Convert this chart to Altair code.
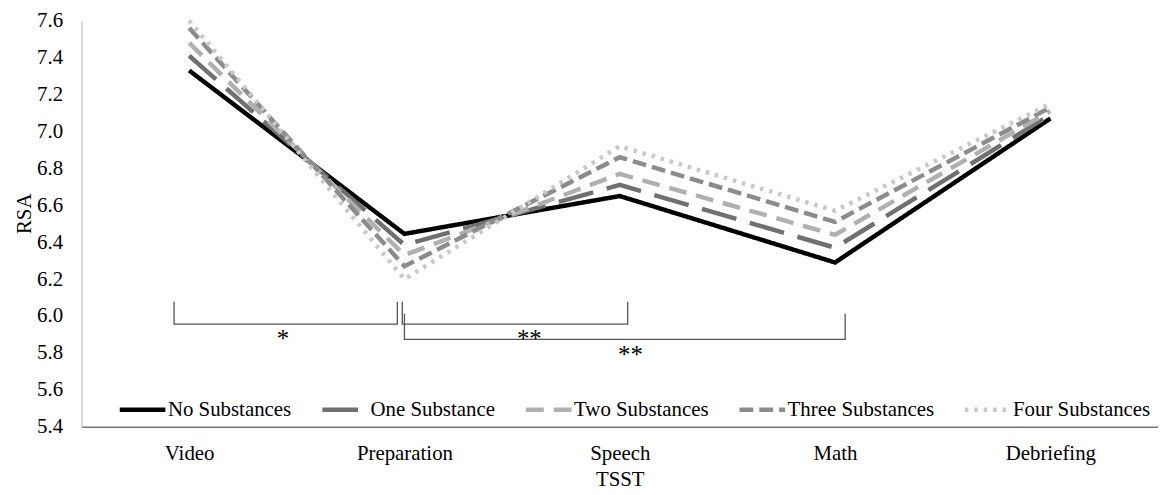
import json
import altair as alt
import pandas as pd

# ---- data ----
categories = ["Video", "Preparation", "Speech", "Math", "Debriefing"]
series = ["No Substances", "One Substance", "Two Substances", "Three Substances", "Four Substances"]
no_substances = [7.33, 6.445, 6.65, 6.29, 7.07]
one_substance = [7.41, 6.385, 6.71, 6.37, 7.09]
two_substances = [7.48, 6.33, 6.77, 6.44, 7.11]
three_substances = [7.56, 6.27, 6.86, 6.51, 7.13]
four_substances = [7.60, 6.20, 6.92, 6.57, 7.15]
y_ticks = [5.4, 5.6, 5.8, 6.0, 6.2, 6.4, 6.6, 6.8, 7.0, 7.2, 7.4, 7.6]

# significance brackets (x in category index units, y in RSA units)
bracket_names = ["Video-Preparation", "Preparation-Speech", "Preparation-Math"]
bracket_start = [-0.07, 0.99, 1.0]
bracket_end = [0.967, 2.037, 3.047]
bracket_top = [6.077, 6.077, 6.013]
bracket_bottom = [5.956, 5.956, 5.873]
bracket_label = ["*", "**", "**"]
bracket_label_x = [0.436, 1.58, 2.05]
bracket_label_y = [5.91, 5.91, 5.82]

# ---- tables ----
values = [no_substances, one_substance, two_substances, three_substances, four_substances]
rows = []
for s, vals in zip(series, values):
    for i, v in enumerate(vals):
        rows.append({"x": i, "y": v, "series": s})
df = pd.DataFrame(rows)

brows = []
for n, x0, x1, t, b in zip(bracket_names, bracket_start, bracket_end, bracket_top, bracket_bottom):
    for k, (xx, yy) in enumerate([(x0, t), (x0, b), (x1, b), (x1, t)]):
        brows.append({"x": xx, "y": yy, "bracket": n, "k": k})
bdf = pd.DataFrame(brows)

sdf = pd.DataFrame({"x": bracket_label_x, "y": bracket_label_y, "label": bracket_label})

FONT = "Liberation Serif"
FS = 21
label_expr = json.dumps(categories) + "[datum.value]"

X = alt.X(
    "x:Q",
    title="TSST",
    scale=alt.Scale(domain=[-0.5, 4.5], nice=False, zero=False),
    axis=alt.Axis(values=list(range(len(categories))), labelExpr=label_expr,
                  grid=False, ticks=False, domainColor="#777777", domainWidth=1.5,
                  labelPadding=16, titlePadding=5, labelFlush=False),
)
Y = alt.Y(
    "y:Q",
    title="RSA",
    scale=alt.Scale(domain=[5.4, 7.6], nice=False, zero=False),
    axis=alt.Axis(values=y_ticks, format=".1f", grid=False, ticks=False,
                  domainColor="#b0b0b0", domainWidth=1, labelPadding=19,
                  titlePadding=2, titleY=194),
)

colors = ["#000000", "#707070", "#b0b0b0", "#8c8c8c", "#c8c8c8"]
dashes = [[1, 0], [36, 14], [18, 10], [14, 6], [3.5, 6]]

lines = alt.Chart(df).mark_line(strokeWidth=4.5, strokeJoin="miter").encode(
    x=X,
    y=Y,
    color=alt.Color("series:N", sort=series, scale=alt.Scale(domain=series, range=colors),
                    legend=alt.Legend(title=None, orient="none", direction="horizontal",
                                      legendX=36, legendY=366, symbolType="stroke",
                                      symbolSize=2116, symbolStrokeWidth=4.5,
                                      labelFont=FONT, labelFontSize=FS, labelColor="black",
                                      labelOffset=0, columnPadding=21)),
    strokeDash=alt.StrokeDash("series:N", sort=series,
                              scale=alt.Scale(domain=series, range=dashes), legend=None),
    detail="series:N",
)

brackets = alt.Chart(bdf).mark_line(color="#555555", strokeWidth=1.3).encode(
    x=X, y=Y, detail="bracket:N", order="k:Q"
)

stars = alt.Chart(sdf).mark_text(font=FONT, fontSize=25, color="black", baseline="middle",
                                 dy=6).encode(
    x=X, y=Y, text="label:N"
)

chart = alt.layer(lines, brackets, stars).properties(
    width=1084, height=409,
    autosize=alt.AutoSizeParams(type="none"),
    padding={"left": 74, "top": 11, "right": 0, "bottom": 74},
).configure_view(stroke=None).configure_axis(
    labelFont=FONT, labelFontSize=FS, labelColor="black",
    titleFont=FONT, titleFontSize=FS, titleColor="black", titleFontWeight="normal",
)

chart.save("out.html", embed_options={"renderer": "svg", "actions": False})
